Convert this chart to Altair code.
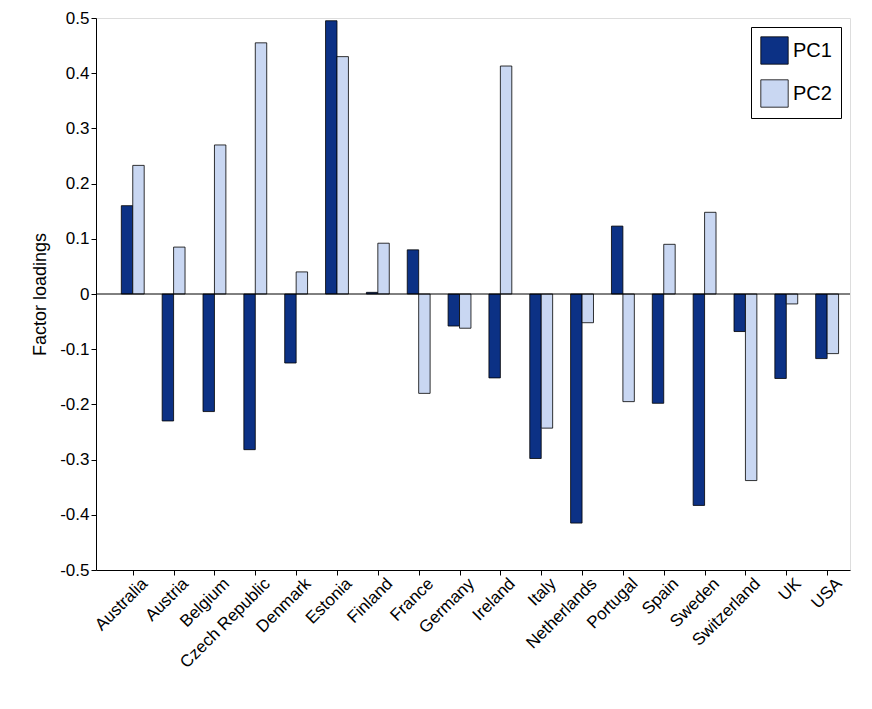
import altair as alt
import pandas as pd

countries = ["Australia", "Austria", "Belgium", "Czech Republic", "Denmark", "Estonia",
             "Finland", "France", "Germany", "Ireland", "Italy", "Netherlands",
             "Portugal", "Spain", "Sweden", "Switzerland", "UK", "USA"]
pc1 = [0.16, -0.23, -0.213, -0.282, -0.125, 0.495, 0.003, 0.08, -0.058, -0.152,
       -0.298, -0.415, 0.123, -0.198, -0.383, -0.068, -0.153, -0.117]
pc2 = [0.233, 0.085, 0.27, 0.455, 0.04, 0.43, 0.092, -0.18, -0.062, 0.413,
       -0.243, -0.052, -0.195, 0.09, 0.148, -0.338, -0.018, -0.108]

rows = []
for i, c in enumerate(countries):
    rows.append({"idx": i + 1, "series": "PC1", "value": pc1[i], "off0": -0.28, "off1": 0.0})
    rows.append({"idx": i + 1, "series": "PC2", "value": pc2[i], "off0": 0.0, "off1": 0.28})
df = pd.DataFrame(rows)

label_expr = "[" + ",".join("'%s'" % c for c in countries) + "][datum.value - 1]"
font = "Liberation Sans"

xscale = alt.Scale(domain=[0.1, 18.56], nice=False, zero=False)

bars = alt.Chart(df).transform_calculate(
    x0="datum.idx + datum.off0", x1="datum.idx + datum.off1"
).mark_bar(stroke="black", strokeWidth=0.8).encode(
    x=alt.X("x0:Q", scale=xscale,
            axis=alt.Axis(values=list(range(1, 19)), labelExpr=label_expr, labelAngle=-45,
                          labelAlign="right", labelBaseline="top", grid=False, title=None,
                          labelFontSize=17, tickColor="black", domainColor="black",
                          labelColor="black", labelPadding=0, labelOverlap=False,
                          labelBound=False, labelOffset=6)),
    x2="x1:Q",
    y=alt.Y("value:Q", scale=alt.Scale(domain=[-0.5, 0.5], nice=False),
            axis=alt.Axis(values=[-0.5, -0.4, -0.3, -0.2, -0.1, 0, 0.1, 0.2, 0.3, 0.4, 0.5],
                          labelExpr="replace(format(datum.value, '~g'), '−', '-')",
                          grid=False, title="Factor loadings", titleFontSize=18,
                          titleFontWeight="normal", labelFontSize=17, tickColor="black",
                          domainColor="black", labelColor="black", titleColor="black",
                          titlePadding=10, labelOverlap=False)),
    y2=alt.datum(0),
    color=alt.Color("series:N",
                    scale=alt.Scale(domain=["PC1", "PC2"], range=["#0c3185", "#c9d7f2"]),
                    legend=alt.Legend(title=None, orient="top-right", symbolType="square",
                                      symbolSize=750, symbolStrokeColor="black",
                                      symbolStrokeWidth=0.8, labelFontSize=20,
                                      strokeColor="black", fillColor="white", padding=9,
                                      offset=9, rowPadding=12, labelColor="black")),
)

zero = alt.Chart(pd.DataFrame({"y": [0]})).mark_rule(color="black", strokeWidth=1).encode(
    y=alt.Y("y:Q")
)

chart = (bars + zero).properties(
    width=754, height=552,
    autosize=alt.AutoSizeParams(type="none"),
    padding={"left": 88, "top": 10, "right": 14, "bottom": 131},
).configure_view(stroke="black").configure(font=font)

chart.save("out.html", embed_options={"renderer": "svg", "actions": False})
